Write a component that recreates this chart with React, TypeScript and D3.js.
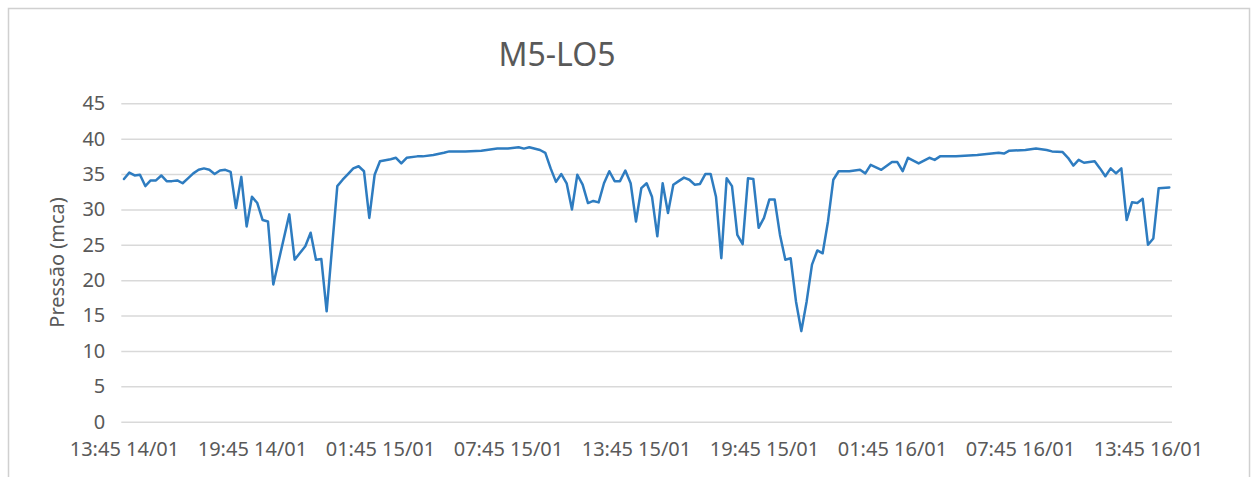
import React, { useEffect, useRef } from 'react';
import * as d3 from 'd3';

// hours after 13:45 14/01 (15 min readings)
const hours = [
  0, 0.25, 0.5, 0.75, 1, 1.25, 1.5, 1.75, 2, 2.25, 2.5, 2.75, 3, 3.25, 3.5, 3.75, 4, 4.25, 4.5, 4.75,
  5, 5.25, 5.5, 5.75, 6, 6.25, 6.5, 6.75, 7, 7.75, 8, 8.5, 8.75, 9, 9.25, 9.5, 10, 10.25, 10.5, 10.75,
  11, 11.25, 11.5, 11.75, 12, 12.5, 12.75, 13, 13.25, 13.75, 14, 14.5, 15, 15.25, 16, 16.75, 17.5, 18,
  18.5, 18.75, 19, 19.5, 19.75, 20, 20.25, 20.5, 20.75, 21, 21.25, 21.5, 21.75, 22, 22.25, 22.5, 22.75,
  23, 23.25, 23.5, 23.75, 24, 24.25, 24.5, 24.75, 25, 25.25, 25.5, 25.75, 26, 26.25, 26.5, 26.75, 27,
  27.25, 27.5, 27.75, 28, 28.25, 28.5, 28.75, 29, 29.25, 29.5, 29.75, 30, 30.25, 30.5, 30.75, 31, 31.25,
  31.5, 31.75, 32, 32.25, 32.5, 32.75, 33, 33.25, 33.5, 34, 34.5, 34.75, 35, 35.5, 36, 36.25, 36.5,
  36.75, 37.25, 37.75, 38, 38.25, 39, 40, 41, 41.25, 41.5, 42.25, 42.75, 43.25, 43.5, 44, 44.25, 44.5,
  44.75, 45, 45.5, 45.75, 46, 46.25, 46.5, 46.75, 47, 47.25, 47.5, 47.75, 48, 48.25, 48.5, 49,
];

const pressure = [
  34.3, 35.2, 34.8, 34.9, 33.3, 34.1, 34.1, 34.8, 34.0, 34.0, 34.1, 33.7, 34.4, 35.1, 35.6, 35.8, 35.6, 35.0, 35.5, 35.6,
  35.3, 30.2, 34.6, 27.6, 31.8, 30.9, 28.5, 28.3, 19.4, 29.3, 22.9, 24.8, 26.7, 22.9, 23.0, 15.6, 33.3, 34.2, 35.0, 35.8,
  36.1, 35.4, 28.8, 34.9, 36.8, 37.1, 37.3, 36.5, 37.3, 37.5, 37.5, 37.7, 38.0, 38.2, 38.2, 38.3, 38.6, 38.6,
  38.8, 38.6, 38.8, 38.4, 38.0, 35.8, 33.9, 35.0, 33.7, 30.0, 34.9, 33.5, 30.9, 31.2, 31.0, 33.7, 35.4,
  34.0, 34.0, 35.5, 33.7, 28.3, 33.0, 33.7, 31.8, 26.2, 33.7, 29.5, 33.5, 34.0, 34.5, 34.2, 33.5, 33.6,
  35.0, 35.0, 31.8, 23.1, 34.4, 33.3, 26.4, 25.1, 34.4, 34.3, 27.4, 28.8, 31.4, 31.4, 26.4, 22.9, 23.1,
  17.0, 12.8, 17.0, 22.2, 24.2, 23.8, 28.3, 34.2, 35.4, 35.4, 35.6, 35.1, 36.3, 35.6, 36.7, 36.7, 35.4,
  37.3, 36.5, 37.3, 37.0, 37.5, 37.5, 37.7, 38.0, 37.9, 38.3, 38.4, 38.6, 38.4, 38.2, 38.1, 37.3, 36.2,
  37.0, 36.6, 36.8, 35.8, 34.7, 35.8, 35.1, 35.8, 28.5, 31.0, 30.9, 31.5, 25.0, 25.9, 33.0, 33.1,
];

const tickHours = [0, 6, 12, 18, 24, 30, 36, 42, 48];
const yTicks = [0, 5, 10, 15, 20, 25, 30, 35, 40, 45];

const title = 'M5-LO5';
const yTitle = 'Pressão (mca)';

const App = () => {
  const ref = useRef<SVGSVGElement | null>(null);

  const width = 1253, height = 477;
  const plotLeft = 121.3, plotRight = 1172, plotTop = 103.3, plotBottom = 421.7;

  const GRID = '#d9d9d9';
  const TEXT = '#595959';
  const LINE = '#2e7cc0';
  const FONT = '"Noto Sans", "Open Sans", sans-serif';

  useEffect(() => {
    const start = new Date(2019, 0, 14, 13, 45);
    const at = (h: number) => new Date(start.getTime() + h * 3600 * 1000);
    const data = hours.map((h, i) => ({ t: at(h), v: pressure[i] }));

    const x = d3.scaleTime()
      .domain([at(-0.125), at(49.125)])
      .range([plotLeft, plotRight]);

    const y = d3.scaleLinear()
      .domain([0, 45])
      .range([plotBottom, plotTop]);

    const svg = d3.select(ref.current)
      .attr('width', width)
      .attr('height', height)
      .attr('viewBox', `0 0 ${width} ${height}`);

    svg.selectAll('*').remove();

    svg.append('rect')
      .attr('width', width).attr('height', height)
      .attr('fill', '#fff');

    // chart frame
    svg.append('rect')
      .attr('x', 8.5).attr('y', 8.5)
      .attr('width', 1241).attr('height', 520)
      .attr('fill', 'none')
      .attr('stroke', '#d0d0d0')
      .attr('stroke-width', 1.5);

    // gridlines
    svg.append('g')
      .attr('transform', `translate(${plotLeft},0)`)
      .call(d3.axisLeft(y)
        .tickValues(yTicks)
        .tickSize(-(plotRight - plotLeft))
        .tickFormat(() => ''))
      .call(g => {
        g.select('.domain').remove();
        g.selectAll('.tick line')
          .attr('stroke', GRID)
          .attr('stroke-width', 1.5);
      });

    // y labels
    svg.append('g')
      .attr('transform', `translate(${plotLeft},0)`)
      .call(d3.axisLeft(y).tickValues(yTicks).tickSize(0).tickPadding(16))
      .call(g => {
        g.select('.domain').remove();
        g.selectAll('.tick text')
          .attr('fill', TEXT)
          .style('font-family', FONT)
          .style('font-size', '20px');
      });

    // x labels
    svg.append('g')
      .attr('transform', `translate(0,${plotBottom})`)
      .call(d3.axisBottom(x)
        .tickValues(tickHours.map(at))
        .tickFormat(d => d3.timeFormat('%H:%M %d/%m')(d as Date))
        .tickSize(0)
        .tickPadding(20))
      .call(g => {
        g.select('.domain').remove();
        g.selectAll('.tick text')
          .attr('fill', TEXT)
          .style('font-family', FONT)
          .style('font-size', '20px');
      });

    // series
    const line = d3.line<{ t: Date; v: number }>()
      .x(d => x(d.t))
      .y(d => y(d.v));

    svg.append('path')
      .datum(data)
      .attr('d', line)
      .attr('fill', 'none')
      .attr('stroke', LINE)
      .attr('stroke-width', 2.5)
      .attr('stroke-linejoin', 'round')
      .attr('stroke-linecap', 'round');

    // titles
    svg.append('text')
      .attr('x', 557)
      .attr('y', 66)
      .attr('text-anchor', 'middle')
      .attr('fill', TEXT)
      .style('font-family', FONT)
      .style('font-size', '32px')
      .text(title);

    svg.append('text')
      .attr('transform', `translate(64,${(plotTop + plotBottom) / 2}) rotate(-90)`)
      .attr('text-anchor', 'middle')
      .attr('fill', TEXT)
      .style('font-family', FONT)
      .style('font-size', '20px')
      .text(yTitle);
  }, []);

  return (
    <svg ref={ref} style={{ position: 'absolute', left: 0, top: 0, display: 'block' }} />
  );
};

export default App;
